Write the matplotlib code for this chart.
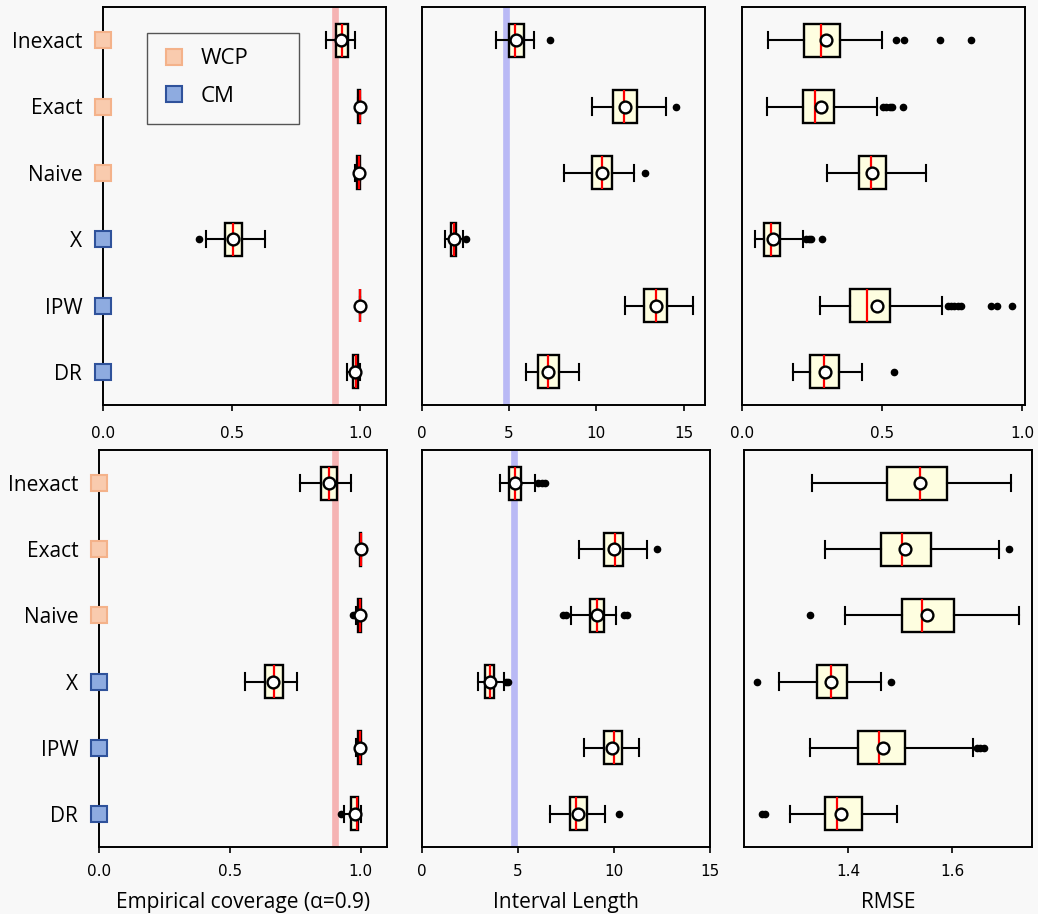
import matplotlib
matplotlib.use("Agg")
import matplotlib.pyplot as plt
from matplotlib.lines import Line2D
from matplotlib.patches import Rectangle

methods = ['Inexact', 'Exact', 'Naive', 'X', 'IPW', 'DR']
groups = ['WCP', 'WCP', 'WCP', 'CM', 'CM', 'CM']

# rows: [whislo, q1, med, q3, whishi, mean]
cov_top = [
    [0.868, 0.907, 0.929, 0.952, 0.981, 0.925],
    [0.993, 0.993, 0.997, 1.000, 1.000, 0.997],
    [0.978, 0.988, 0.994, 1.000, 1.000, 0.994],
    [0.400, 0.473, 0.505, 0.540, 0.631, 0.505],
    [1.000, 1.000, 1.000, 1.000, 1.000, 0.998],
    [0.948, 0.971, 0.984, 0.993, 1.000, 0.980],
]
cov_top_fliers = [[], [], [], [0.373], [], []]

len_top = [
    [4.22, 4.99, 5.35, 5.83, 6.42, 5.37],
    [9.75, 10.95, 11.60, 12.33, 13.99, 11.62],
    [8.12, 9.73, 10.32, 10.91, 12.13, 10.34],
    [1.34, 1.68, 1.83, 1.97, 2.33, 1.83],
    [11.64, 12.71, 13.41, 14.06, 15.52, 13.40],
    [5.94, 6.67, 7.22, 7.83, 8.98, 7.24],
]
len_top_fliers = [[7.32], [14.56], [12.80], [2.52], [], []]

rmse_top = [
    [0.094, 0.220, 0.282, 0.348, 0.498, 0.299],
    [0.089, 0.218, 0.261, 0.329, 0.483, 0.281],
    [0.302, 0.416, 0.461, 0.515, 0.658, 0.464],
    [0.045, 0.077, 0.103, 0.137, 0.219, 0.112],
    [0.277, 0.385, 0.447, 0.527, 0.714, 0.482],
    [0.181, 0.241, 0.292, 0.346, 0.428, 0.298],
]
rmse_top_fliers = [
    [0.549, 0.577, 0.706, 0.818],
    [0.502, 0.515, 0.528, 0.535, 0.576],
    [],
    [0.229, 0.238, 0.246, 0.287],
    [0.734, 0.746, 0.758, 0.770, 0.782, 0.889, 0.911, 0.964],
    [0.544],
]

cov_bot = [
    [0.767, 0.849, 0.880, 0.909, 0.964, 0.880],
    [0.995, 0.997, 1.000, 1.000, 1.000, 1.000],
    [0.980, 0.988, 0.996, 1.000, 1.000, 0.995],
    [0.559, 0.634, 0.668, 0.703, 0.757, 0.665],
    [0.982, 0.988, 0.996, 1.000, 1.000, 0.995],
    [0.936, 0.962, 0.985, 0.991, 1.000, 0.977],
]
cov_bot_fliers = [[], [], [0.972], [], [], [0.923]]

len_bot = [
    [4.06, 4.53, 4.84, 5.16, 5.87, 4.84],
    [8.19, 9.48, 10.07, 10.47, 11.74, 10.00],
    [7.74, 8.73, 9.13, 9.46, 10.12, 9.11],
    [2.92, 3.30, 3.56, 3.77, 4.29, 3.56],
    [8.44, 9.48, 9.98, 10.43, 11.30, 9.91],
    [6.68, 7.71, 8.00, 8.61, 9.53, 8.14],
]
len_bot_fliers = [[6.04, 6.25, 6.39], [12.22], [7.33, 7.50, 10.50, 10.68],
                  [4.39, 4.46], [], [10.26]]

rmse_bot = [
    [1.329, 1.474, 1.538, 1.590, 1.712, 1.537],
    [1.354, 1.462, 1.503, 1.558, 1.689, 1.508],
    [1.393, 1.502, 1.542, 1.603, 1.728, 1.551],
    [1.266, 1.340, 1.366, 1.397, 1.463, 1.367],
    [1.326, 1.419, 1.459, 1.509, 1.640, 1.467],
    [1.288, 1.355, 1.378, 1.426, 1.493, 1.385],
]
rmse_bot_fliers = [[], [1.708], [1.325], [1.224, 1.481], [1.647, 1.653, 1.660],
                   [1.233, 1.240]]

target_cov = 0.9
target_len = 4.8

BG = '#f8f8f8'
group_face = {'WCP': '#f9cbae', 'CM': '#8eabe0'}
group_edge = {'WCP': '#f4b28a', 'CM': '#2f529b'}
LABEL_FONT = ['Open Sans', 'DejaVu Sans']

plt.rcParams['font.family'] = 'DejaVu Sans'

fig = plt.figure(figsize=(10.38, 9.14), dpi=100, facecolor=BG)
W, H = 1038.0, 914.0


def make_ax(x0, y0, x1, y1):
    ax = fig.add_axes([x0 / W, 1 - y1 / H, (x1 - x0) / W, (y1 - y0) / H])
    ax.set_facecolor(BG)
    for sp in ax.spines.values():
        sp.set_linewidth(1.4)
    return ax


def draw_boxes(ax, rows, fliers):
    stats = []
    for r, f in zip(rows, fliers):
        stats.append(dict(whislo=r[0], q1=r[1], med=r[2], q3=r[3], whishi=r[4],
                          mean=r[5], fliers=f))
    ax.bxp(stats, positions=range(1, len(stats) + 1), widths=0.5,
           orientation='horizontal', patch_artist=True, showmeans=True,
           boxprops=dict(facecolor='#fefee0', edgecolor='black', linewidth=1.7),
           medianprops=dict(color='red', linewidth=1.6),
           whiskerprops=dict(color='black', linewidth=1.5),
           capprops=dict(color='black', linewidth=1.5),
           meanprops=dict(marker='o', markerfacecolor='white',
                          markeredgecolor='black', markersize=8.5,
                          markeredgewidth=1.7),
           flierprops=dict(marker='o', markerfacecolor='black',
                           markeredgecolor='black', markersize=4.5))
    ax.set_ylim(6.5, 0.5)


boxes = [
    [(cov_top, cov_top_fliers), (len_top, len_top_fliers), (rmse_top, rmse_top_fliers)],
    [(cov_bot, cov_bot_fliers), (len_bot, len_bot_fliers), (rmse_bot, rmse_bot_fliers)],
]
frames = [
    [(103, 7, 386, 405), (422, 7, 705, 405), (742, 7, 1025, 405)],
    [(99, 450, 387, 847), (422, 450, 710, 847), (744, 450, 1032, 847)],
]
xlims = [[(0, 1.1), (0, 16.23), (0, 1.01)],
         [(0, 1.1), (0, 15), (1.199, 1.753)]]
xticks = [[[0, 0.5, 1.0], [0, 5, 10, 15], [0, 0.5, 1.0]],
          [[0, 0.5, 1.0], [0, 5, 10, 15], [1.4, 1.6]]]
xticklabels = [[['0.0', '0.5', '1.0'], ['0', '5', '10', '15'], ['0.0', '0.5', '1.0']],
               [['0.0', '0.5', '1.0'], ['0', '5', '10', '15'], ['1.4', '1.6']]]
xlabels = ['Empirical coverage (\u03b1=0.9)', 'Interval Length', 'RMSE']
tick_pads = [11, 8.5]

for i in range(2):
    for j in range(3):
        ax = make_ax(*frames[i][j])
        rows, fl = boxes[i][j]
        if j == 0:
            ax.axvline(target_cov, color='#f5b3b3', linewidth=4.8, zorder=0)
        elif j == 1:
            ax.axvline(target_len, color='#b9b9f5', linewidth=4.8, zorder=0)
        draw_boxes(ax, rows, fl)
        ax.set_xlim(*xlims[i][j])
        ax.set_xticks(xticks[i][j])
        ax.set_xticklabels(xticklabels[i][j])
        ax.tick_params(axis='x', labelsize=11, length=4, width=1.2, pad=tick_pads[i])
        if j == 0:
            ax.set_yticks(range(1, 7))
            ax.set_yticklabels(methods, family=LABEL_FONT, fontsize=15)
            ax.tick_params(axis='y', length=0, pad=15)
            for k, g in enumerate(groups):
                ax.plot([0], [k + 1], marker='s', markersize=11.5,
                        markerfacecolor=group_face[g], markeredgecolor=group_edge[g],
                        markeredgewidth=1.5, linestyle='none', clip_on=False,
                        zorder=5)
        else:
            ax.set_yticks([])
        if i == 1:
            ax.set_xlabel(xlabels[j], family=LABEL_FONT, fontsize=15, labelpad=9)
        if i == 0 and j == 0:
            # legend frame is wider than its content in the original
            ax.add_patch(Rectangle((0.155, 0.706), 0.538, 0.229, transform=ax.transAxes,
                                   facecolor=BG, edgecolor='#555555', linewidth=1.0,
                                   zorder=4))
            handles = [Line2D([], [], marker='s', linestyle='none', markersize=12,
                              markerfacecolor=group_face[g], markeredgecolor=group_edge[g],
                              markeredgewidth=1.5, label=g)
                       for g in ['WCP', 'CM']]
            leg = ax.legend(handles=handles, loc='upper left',
                            bbox_to_anchor=(0.155, 0.935), borderaxespad=0,
                            prop=dict(family=LABEL_FONT, size=16), frameon=False,
                            borderpad=0.7, labelspacing=0.75, handletextpad=0.7,
                            handlelength=1.0)
            leg.set_zorder(6)

fig.savefig('out.png', dpi=100, facecolor=BG)
